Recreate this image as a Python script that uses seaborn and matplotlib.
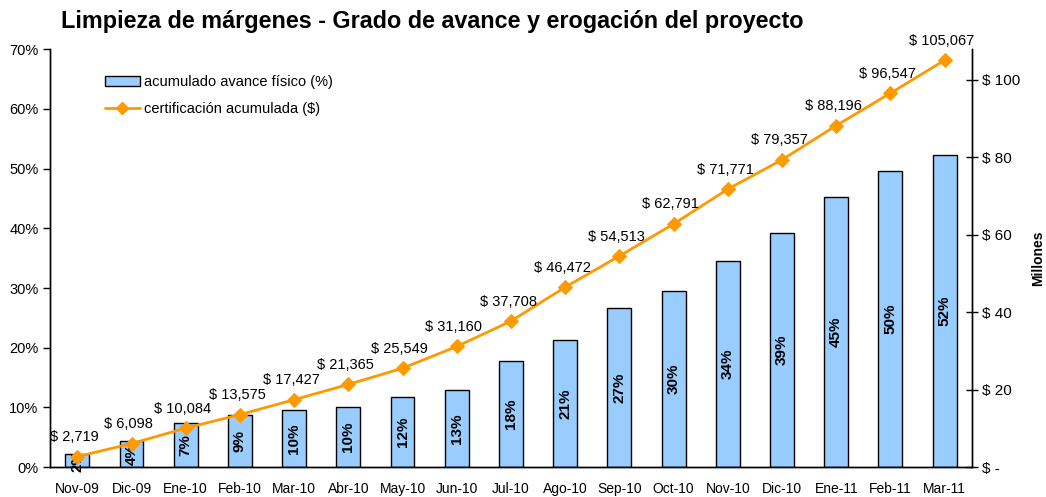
import numpy as np
import pandas as pd
import matplotlib
matplotlib.use("Agg")
import matplotlib.pyplot as plt
import seaborn as sns
from matplotlib.patches import Patch
from matplotlib.lines import Line2D

months = ["Nov-09", "Dic-09", "Ene-10", "Feb-10", "Mar-10", "Abr-10", "May-10", "Jun-10",
          "Jul-10", "Ago-10", "Sep-10", "Oct-10", "Nov-10", "Dic-10", "Ene-11", "Feb-11", "Mar-11"]
avance = [2.2, 4.4, 7.4, 8.7, 9.6, 10.1, 11.7, 12.9, 17.8, 21.3, 26.6, 29.5, 34.5, 39.2, 45.2, 49.6, 52.3]
certif = [2.719, 6.098, 10.084, 13.575, 17.427, 21.365, 25.549, 31.160, 37.708, 46.472,
          54.513, 62.791, 71.771, 79.357, 88.196, 96.547, 105.067]

sns.set_style("white")
plt.rcParams["font.family"] = ["Liberation Sans", "DejaVu Sans"]
plt.rcParams.update({"text.color": "black", "axes.labelcolor": "black",
                     "xtick.color": "black", "ytick.color": "black"})

df = pd.DataFrame({"mes": months, "avance": avance, "cert": certif})
pos = np.arange(len(months))

fig = plt.figure(figsize=(10.46, 4.97), dpi=100)
ax = fig.add_axes([0.048, 0.060, 0.881, 0.841])

sns.barplot(data=df, x="mes", y="avance", color="#99CCFF", edgecolor="black",
            linewidth=1, width=0.44, saturation=1, ax=ax)

for i, v in enumerate(avance):
    ax.text(i, v / 2, f"{round(v):.0f}%", rotation=90, ha="center", va="center",
            fontsize=11, fontweight="bold")

ax.set_ylim(0, 70)
ax.set_xlim(-0.5, len(months) - 0.5)
ax.set_yticks(range(0, 71, 10))
ax.set_yticklabels([f"{t}%" for t in range(0, 71, 10)], fontsize=10.5)
ax.set_xticks(pos)
ax.set_xticklabels(months, fontsize=10)
ax.set_xticks(np.arange(-0.5, len(months), 1), minor=True)
ax.tick_params(axis="x", which="major", length=0, pad=11)
ax.tick_params(axis="x", which="minor", length=5, width=1, direction="out", color="black")
ax.tick_params(axis="y", length=5, width=1, direction="out", color="black", left=True)
ax.set_xlabel("")
ax.set_ylabel("")

ax2 = ax.twinx()
sns.lineplot(x=pos, y=certif, color="#FF9900", linewidth=2, marker="D", markersize=7,
             markeredgecolor="#FF9900", ax=ax2)
ax2.set_ylim(0, 107.9)
ax2.set_yticks([0, 20, 40, 60, 80, 100])
ax2.set_yticklabels(["$ -", "$ 20", "$ 40", "$ 60", "$ 80", "$ 100"], fontsize=11)
ax2.tick_params(axis="y", length=8, width=1, direction="inout", color="black", right=True)
ax2.set_ylabel("Millones", fontsize=10, fontweight="bold", labelpad=8)

for i, v in enumerate(certif):
    ax2.annotate(f"$ {v * 1000:,.0f}", (i, v), xytext=(-2, 9), textcoords="offset points",
                 ha="center", va="bottom", fontsize=10.5)

for a in (ax, ax2):
    a.spines["top"].set_visible(False)
    for s in ("left", "right", "bottom"):
        a.spines[s].set_color("black")
        a.spines[s].set_linewidth(1)

handles = [Patch(facecolor="#99CCFF", edgecolor="black", label="acumulado avance físico (%)"),
           Line2D([0], [0], color="#FF9900", linewidth=2, marker="D", markersize=6,
                  label="certificación acumulada ($)")]
ax2.legend(handles=handles, loc="upper left", bbox_to_anchor=(0.045, 0.97), frameon=False,
           fontsize=10.5, handlelength=2.4, labelspacing=0.9, handletextpad=0.3)

fig.text(0.058, 0.957, "Limpieza de márgenes - Grado de avance y erogación del proyecto",
         fontsize=16.8, fontweight="bold", ha="left", va="center")

fig.savefig("out.png", dpi=100)
